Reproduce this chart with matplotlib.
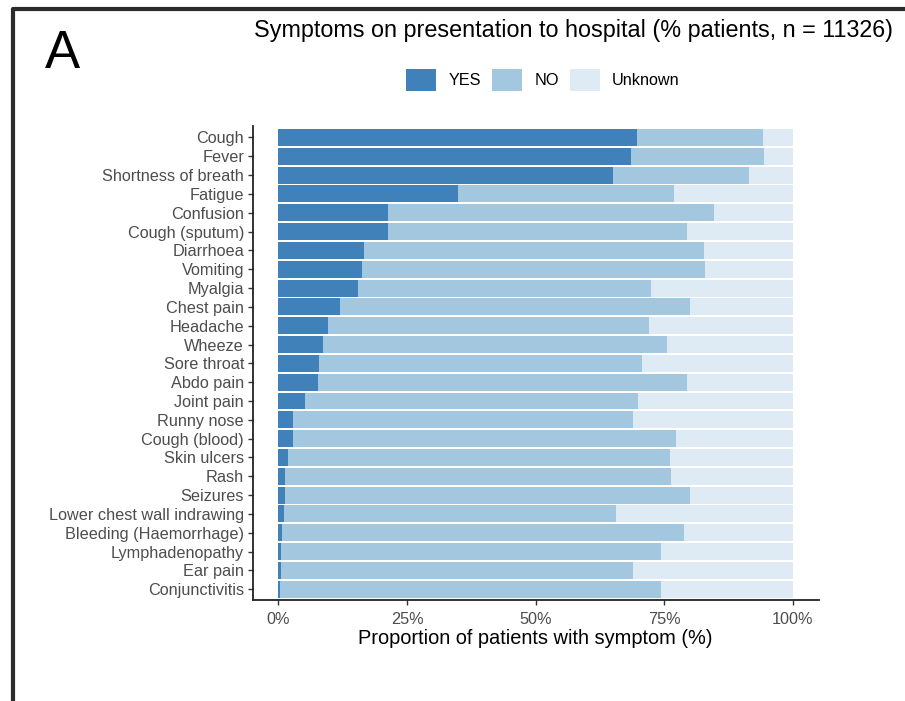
import numpy as np
import matplotlib
matplotlib.use("Agg")
from matplotlib import pyplot as plt
from matplotlib.patches import Patch
from matplotlib.lines import Line2D
from matplotlib.ticker import FuncFormatter

plt.rcParams['font.family'] = ['Liberation Sans', 'DejaVu Sans']

symptoms = ["Cough", "Fever", "Shortness of breath", "Fatigue", "Confusion",
            "Cough (sputum)", "Diarrhoea", "Vomiting", "Myalgia", "Chest pain",
            "Headache", "Wheeze", "Sore throat", "Abdo pain", "Joint pain",
            "Runny nose", "Cough (blood)", "Skin ulcers", "Rash", "Seizures",
            "Lower chest wall indrawing", "Bleeding (Haemorrhage)",
            "Lymphadenopathy", "Ear pain", "Conjunctivitis"]

# percent of patients answering YES / NO, remainder is unknown
yes_pct = [69.7, 68.5, 65.0, 34.8, 21.3, 21.3, 16.7, 16.2, 15.4, 11.9,
           9.6, 8.6, 7.9, 7.7, 5.2, 2.8, 2.8, 1.8, 1.3, 1.3,
           1.1, 0.7, 0.4, 0.4, 0.2]
no_pct = [24.5, 25.9, 26.5, 42.1, 63.4, 58.1, 66.1, 66.8, 57.1, 68.1,
          62.4, 67.0, 62.8, 71.7, 64.6, 66.2, 74.5, 74.3, 74.9, 78.7,
          64.5, 78.1, 73.9, 68.6, 74.1]

tick_vals = [0, 0.25, 0.5, 0.75, 1.0]

col_yes = "#4081ba"
col_no = "#a3c7de"
col_unk = "#deeaf4"

yes = np.array(yes_pct) / 100
no = np.array(no_pct) / 100
unk = 1 - yes - no
pos = np.arange(len(symptoms))

fig = plt.figure(figsize=(9.05, 7.01), dpi=100)
ax = fig.add_axes([0.2793, 0.1434, 0.6253, 0.6766])

ax.barh(pos, yes, height=0.9, color=col_yes)
ax.barh(pos, no, left=yes, height=0.9, color=col_no)
ax.barh(pos, unk, left=yes + no, height=0.9, color=col_unk)

ax.set_ylim(len(symptoms) - 0.4, -0.6)
ax.set_xlim(-0.05, 1.05)
ax.set_yticks(pos)
ax.set_yticklabels(symptoms)
ax.set_xticks(tick_vals)
ax.xaxis.set_major_formatter(FuncFormatter(lambda v, p: f"{v * 100:.0f}%"))

for s in ["top", "right"]:
    ax.spines[s].set_visible(False)
for s in ["left", "bottom"]:
    ax.spines[s].set_color("#222222")
    ax.spines[s].set_linewidth(1.3)
ax.tick_params(axis="both", colors="#333333", labelcolor="#4d4d4d",
               labelsize=11.7, length=3.5, width=1.0, pad=2.8)
ax.tick_params(axis="x", pad=4.5)
ax.set_xlabel("Proportion of patients with symptom (%)", fontsize=14.4,
              color="black", labelpad=2)

fig.text(254 / 905, 1 - 37 / 701,
         "Symptoms on presentation to hospital (% patients, n = 11326)",
         fontsize=16.85, ha="left", va="baseline")
fig.text(45 / 905, 1 - 68 / 701, "A", fontsize=38, ha="left", va="baseline")

handles = [Patch(facecolor=col_yes, label="YES"),
           Patch(facecolor=col_no, label="NO"),
           Patch(facecolor=col_unk, label="Unknown")]
fig.legend(handles=handles, loc="center", bbox_to_anchor=(0.6, 1 - 80 / 701),
           ncol=3, frameon=False, fontsize=11.7, handlelength=1.85,
           handleheight=1.75, handletextpad=0.74, columnspacing=0.7)

# panel frame
fig.add_artist(Line2D([13 / 905, 13 / 905, 1.0], [0.0, 1 - 9 / 701, 1 - 9 / 701],
                      transform=fig.transFigure, color="#2b2b2b", lw=3.0))

fig.savefig("out.png", dpi=100)
